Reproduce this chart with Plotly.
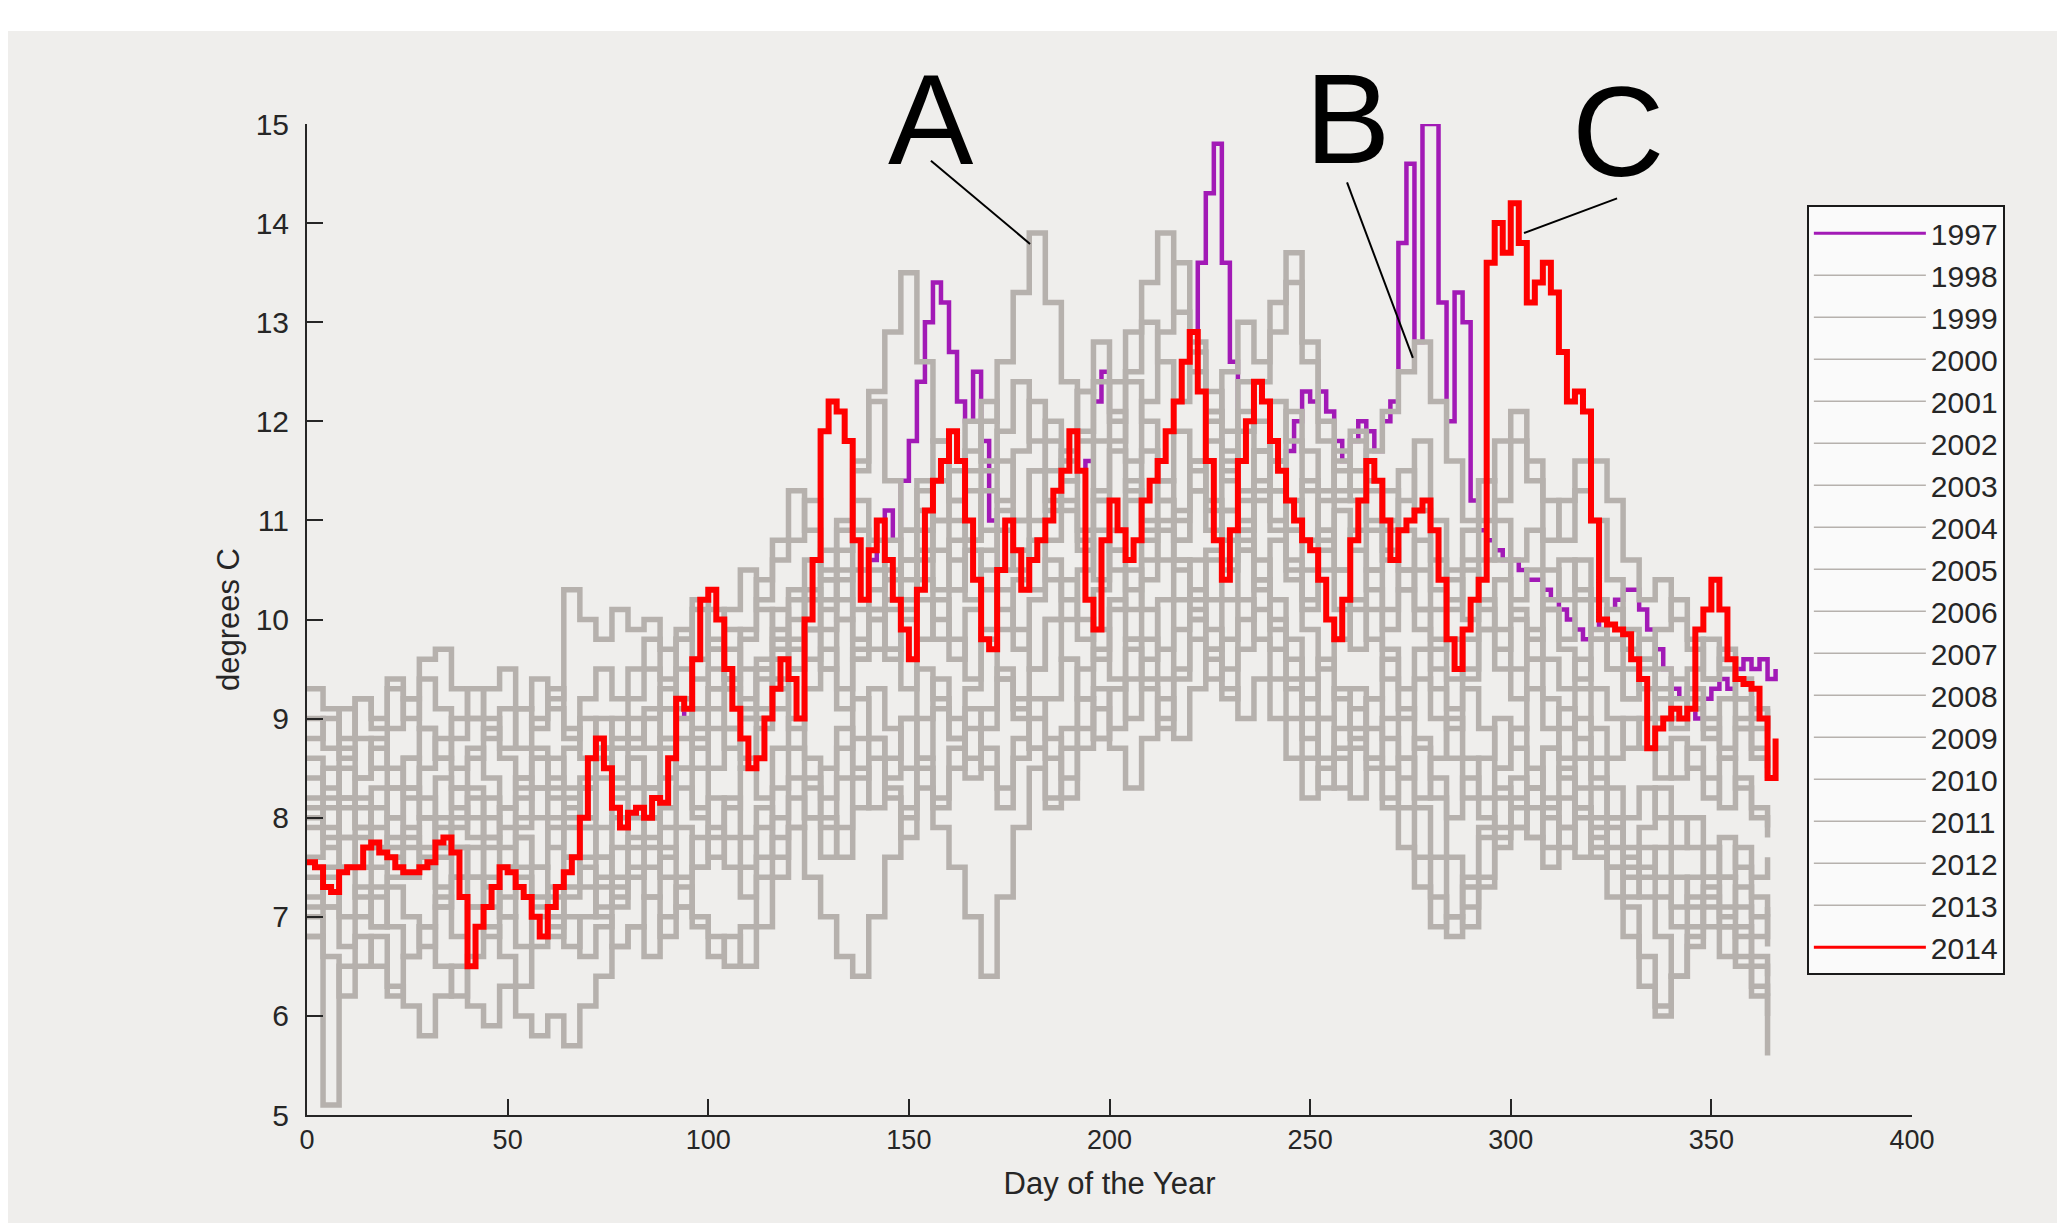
import plotly.graph_objects as go

# ---------------- data ----------------
YEARS = [str(y) for y in range(1997, 2015)]

DAYS_2 = list(range(0, 367, 2))      # sampling of highlighted years
DAYS_G = list(range(0, 365, 4))      # sampling of the grey years

T_2014 = [
    7.55, 7.5, 7.3, 7.25, 7.45, 7.5, 7.5, 7.7, 7.75, 7.65,
    7.6, 7.5, 7.45, 7.45, 7.5, 7.55, 7.75, 7.8, 7.65, 7.2,
    6.5, 6.9, 7.1, 7.3, 7.5, 7.45, 7.3, 7.2, 7.0, 6.8,
    7.1, 7.3, 7.45, 7.6, 8.0, 8.6, 8.8, 8.5, 8.1, 7.9,
    8.05, 8.1, 8.0, 8.2, 8.15, 8.6, 9.2, 9.1, 9.6, 10.2,
    10.3, 10.0, 9.5, 9.1, 8.8, 8.5, 8.6, 9.0, 9.3, 9.6,
    9.4, 9.0, 10.0, 10.6, 11.9, 12.2, 12.1, 11.8, 10.8, 10.2,
    10.7, 11.0, 10.6, 10.2, 9.9, 9.6, 10.3, 11.1, 11.4, 11.6,
    11.9, 11.6, 11.0, 10.4, 9.8, 9.7, 10.5, 11.0, 10.7, 10.3,
    10.6, 10.8, 11.0, 11.3, 11.5, 11.9, 11.5, 10.2, 9.9, 10.8,
    11.2, 10.9, 10.6, 10.8, 11.2, 11.4, 11.6, 11.9, 12.2, 12.6,
    12.9, 12.3, 11.6, 10.8, 10.4, 10.9, 11.6, 12.0, 12.4, 12.2,
    11.8, 11.5, 11.2, 11.0, 10.8, 10.7, 10.4, 10.0, 9.8, 10.2,
    10.8, 11.2, 11.6, 11.4, 11.0, 10.6, 10.9, 11.0, 11.1, 11.2,
    10.9, 10.4, 9.8, 9.5, 9.9, 10.2, 10.4, 13.6, 14.0, 13.7,
    14.2, 13.8, 13.2, 13.4, 13.6, 13.3, 12.7, 12.2, 12.3, 12.1,
    11.0, 10.0, 9.95, 9.9, 9.85, 9.6, 9.4, 8.7, 8.9, 9.0,
    9.1, 9.0, 9.1, 9.9, 10.1, 10.4, 10.1, 9.6, 9.4, 9.35,
    9.3, 9.0, 8.4, 8.8,
]

T_1997 = [
    7.55, 7.5, 7.3, 7.25, 7.45, 7.5, 7.5, 7.7, 7.75, 7.65,
    7.6, 7.5, 7.45, 7.45, 7.5, 7.55, 7.75, 7.8, 7.65, 7.2,
    6.5, 6.9, 7.1, 7.3, 7.5, 7.45, 7.3, 7.2, 7.0, 6.8,
    7.1, 7.3, 7.45, 7.6, 8.0, 8.6, 8.8, 8.5, 8.1, 7.9,
    8.05, 8.1, 8.0, 8.2, 8.15, 8.6, 9.2, 9.0, 9.6, 10.2,
    10.3, 10.0, 9.5, 9.1, 8.8, 8.5, 8.6, 9.0, 9.3, 9.6,
    9.4, 9.0, 10.0, 10.6, 11.9, 12.2, 12.1, 11.8, 10.8, 10.5,
    10.6, 11.0, 11.1, 10.8, 11.4, 11.8, 12.4, 13.0, 13.4, 13.2,
    12.7, 12.2, 12.0, 12.5, 11.8, 11.0, 10.5, 11.0, 10.7, 10.3,
    10.6, 10.8, 11.0, 11.3, 11.5, 11.9, 11.5, 11.6, 12.2, 12.5,
    11.2, 10.9, 10.6, 10.8, 11.2, 11.4, 11.6, 11.9, 12.2, 12.6,
    12.9, 13.6, 14.3, 14.8, 13.6, 12.6, 11.6, 12.0, 12.4, 12.2,
    11.8, 11.5, 11.7, 12.0, 12.3, 12.2, 12.3, 12.1, 11.8, 11.6,
    11.8, 12.0, 11.9, 11.7, 12.0, 12.2, 13.8, 14.6, 12.8, 15.0,
    15.0, 13.2, 12.0, 13.3, 13.0, 11.2, 10.9, 10.8, 10.7, 10.6,
    10.6, 10.5, 10.4, 10.4, 10.3, 10.2, 10.1, 10.0, 9.9, 9.8,
    9.9, 10.0, 10.1, 10.2, 10.3, 10.3, 10.1, 9.9, 9.7, 9.5,
    9.3, 9.2, 9.1, 9.0, 9.2, 9.3, 9.4, 9.3, 9.5, 9.6,
    9.5, 9.6, 9.4, 9.5,
]

T_1998 = [8.8, 9.0, 8.6, 9.2, 8.9, 9.3, 9.0, 9.4, 9.1, 8.8,
          9.0, 9.3, 9.5, 9.1, 8.9, 9.2, 10.3, 10.0, 9.8, 10.1,
          9.9, 10.0, 9.7, 9.9, 9.6, 10.1, 9.4, 9.8, 10.2, 10.6,
          10.8, 11.2, 10.5, 10.9, 11.5, 12.2, 11.4, 10.9, 11.3, 11.8,
          11.2, 10.8, 11.5, 11.9, 12.4, 11.8, 11.2, 11.6, 12.3, 12.8,
          12.1, 11.6, 12.2, 12.9, 13.6, 12.8, 12.1, 11.5, 11.9, 12.4,
          12.9, 13.4, 12.6, 11.8, 11.2, 11.5, 11.0, 10.6, 11.2, 11.8,
          11.0, 10.4, 10.0, 10.6, 11.2, 11.8, 11.4, 10.8, 11.2, 11.6,
          11.0, 10.4, 9.9, 9.6, 9.9, 10.2, 9.8, 9.4, 9.6, 9.2,
          9.0, 8.8]
T_1999 = [7.0, 6.6, 6.2, 6.5, 6.8, 6.3, 6.1, 5.8, 6.2, 6.5,
          6.1, 5.9, 6.3, 6.0, 5.8, 6.0, 5.7, 6.1, 6.4, 6.7,
          6.9, 6.6, 7.0, 7.3, 7.0, 6.8, 6.5, 6.9, 7.4, 7.8,
          8.2, 8.0, 7.6, 7.9, 8.4, 8.8, 8.3, 8.0, 8.6, 9.1,
          8.8, 8.4, 8.9, 9.4, 9.2, 8.7, 8.2, 8.9, 9.5, 9.9,
          9.4, 9.0, 9.6, 10.2, 10.6, 10.1, 9.7, 10.2, 10.8, 10.4,
          9.9, 9.4, 9.0, 8.6, 8.3, 8.7, 9.2, 9.6, 9.1, 8.7,
          8.2, 7.6, 7.1, 7.4, 7.9, 8.4, 8.1, 7.7, 8.2, 8.6,
          8.3, 7.9, 7.5, 7.2, 6.8, 6.4, 6.7, 7.1, 6.9, 6.6,
          6.3, 6.0]
T_2000 = [9.3, 9.1, 8.8, 9.2, 9.0, 9.4, 9.2, 9.6, 9.7, 9.3,
          9.0, 8.8, 9.1, 8.7, 9.0, 9.3, 8.9, 8.6, 9.0, 8.8,
          9.2, 9.5, 9.1, 9.8, 10.2, 9.7, 9.3, 9.9, 10.4, 10.8,
          11.3, 10.9, 10.4, 11.0, 11.6, 12.3, 12.9, 13.5, 12.6, 11.8,
          11.2, 11.7, 12.2, 11.6, 11.0, 11.5, 12.0, 11.4, 10.9, 11.3,
          11.8, 12.4, 12.0, 11.4, 11.0, 11.6, 12.1, 11.7, 11.2, 11.7,
          12.2, 11.8, 11.3, 10.8, 11.3, 11.8, 11.3, 10.7, 10.3, 10.8,
          10.3, 9.8, 9.4, 9.9, 10.4, 10.0, 9.6, 10.1, 9.7, 9.4,
          9.8, 10.1, 9.7, 9.3, 9.0, 9.4, 9.1, 8.8, 9.2, 8.9,
          8.6, 8.5]
T_2001 = [7.2, 7.5, 7.0, 7.3, 6.9, 7.4, 7.8, 7.5, 7.1, 7.4,
          7.7, 7.3, 7.0, 7.4, 7.1, 6.8, 7.2, 7.5, 7.1, 7.4,
          7.8, 7.5, 7.9, 8.3, 8.0, 7.6, 8.1, 8.5, 8.2, 8.7,
          9.0, 8.6, 8.2, 8.7, 9.2, 8.8, 8.4, 9.0, 9.5, 9.2,
          8.8, 9.3, 9.8, 9.4, 9.0, 9.5, 10.0, 9.6, 9.2, 9.7,
          10.2, 9.8, 10.4, 10.9, 10.5, 10.0, 10.6, 11.1, 10.7, 10.3,
          10.8, 10.4, 9.9, 9.5, 9.8, 10.2, 9.8, 9.4, 9.0, 9.4,
          9.0, 8.6, 8.2, 8.6, 9.0, 8.7, 8.3, 8.7, 9.1, 8.8,
          8.4, 8.0, 7.6, 7.9, 8.3, 8.0, 7.7, 7.4, 7.8, 7.5,
          7.2, 7.0]
T_2002 = [8.0, 7.7, 8.2, 7.9, 7.5, 7.8, 8.3, 8.0, 7.6, 7.9,
          8.2, 7.8, 7.5, 7.9, 8.3, 8.0, 7.6, 7.3, 7.0, 6.7,
          6.9, 7.2, 6.8, 7.1, 6.9, 6.6, 6.8, 6.5, 6.9, 7.4,
          7.9, 8.4, 8.0, 7.6, 8.1, 8.6, 8.2, 7.8, 8.3, 7.9,
          7.5, 7.0, 6.4, 7.2, 7.9, 8.5, 8.1, 8.7, 9.2, 8.8,
          9.3, 9.8, 9.4, 9.0, 9.5, 10.0, 9.6, 9.2, 9.7, 10.1,
          9.7, 9.3, 8.8, 8.3, 8.7, 9.1, 8.6, 8.2, 8.6, 8.1,
          7.6, 7.0, 6.9, 7.3, 7.8, 8.2, 7.8, 7.5, 7.9, 8.3,
          7.9, 7.5, 7.1, 6.6, 6.1, 6.4, 6.8, 7.2, 6.9, 6.5,
          6.2, 5.6]
T_2003 = [8.4, 8.1, 8.5, 8.2, 7.9, 8.3, 8.6, 8.2, 7.9, 8.3,
          8.0, 7.7, 8.1, 8.4, 8.0, 7.7, 8.0, 8.3, 7.9, 8.2,
          8.6, 8.3, 8.8, 9.2, 8.8, 9.3, 9.7, 9.2, 9.6, 10.1,
          9.7, 10.2, 10.7, 10.2, 9.8, 10.3, 10.8, 10.4, 10.9, 11.4,
          11.0, 11.5, 12.0, 12.6, 13.3, 13.9, 13.2, 12.4, 11.8, 11.2,
          10.7, 11.2, 11.7, 11.2, 10.8, 11.3, 11.8, 11.4, 10.9, 11.4,
          11.0, 10.6, 10.2, 10.7, 11.1, 10.7, 10.3, 9.9, 10.3, 9.9,
          9.5, 9.1, 9.5, 9.9, 9.5, 9.2, 9.6, 9.2, 8.9, 9.3,
          8.9, 8.6, 9.0, 8.7, 8.4, 8.8, 8.5, 8.2, 8.6, 8.3,
          8.0, 7.8]
T_2004 = [7.6, 7.9, 7.5, 7.8, 8.1, 7.7, 7.4, 7.7, 8.0, 7.7,
          7.4, 7.8, 8.1, 7.8, 7.5, 7.9, 8.2, 7.9, 7.6, 8.0,
          8.3, 8.0, 8.4, 8.8, 8.5, 8.9, 9.3, 9.0, 9.4, 9.8,
          10.3, 9.9, 9.5, 10.0, 10.5, 10.1, 9.7, 10.2, 10.7, 10.3,
          10.8, 11.3, 10.9, 10.5, 11.0, 11.5, 11.1, 11.7, 12.3, 11.8,
          12.4, 12.9, 13.4, 13.9, 13.1, 12.5, 12.0, 12.5, 13.0, 12.6,
          13.2, 13.7, 12.8, 12.0, 11.5, 11.9, 11.4, 11.0, 11.5, 11.1,
          10.6, 10.2, 10.6, 11.0, 10.6, 10.2, 10.5, 10.1, 9.8, 10.2,
          9.8, 9.5, 9.2, 9.6, 9.3, 9.0, 9.3, 9.0, 8.7, 9.0,
          8.7, 8.5]
T_2005 = [6.8, 7.1, 6.7, 7.0, 7.3, 6.9, 6.6, 6.9, 7.2, 6.8,
          7.1, 7.4, 7.0, 6.7, 7.0, 7.3, 7.0, 6.6, 6.9, 7.2,
          7.5, 7.2, 7.6, 7.9, 7.5, 7.8, 8.2, 7.8, 8.1, 7.6,
          7.9, 7.4, 7.0, 6.6, 6.4, 7.0, 7.6, 8.1, 8.5, 8.1,
          8.5, 8.9, 8.5, 8.1, 8.6, 9.0, 8.6, 8.2, 8.7, 9.1,
          8.7, 8.3, 8.8, 9.2, 8.8, 9.3, 9.7, 9.3, 9.0, 9.4,
          9.0, 8.6, 8.2, 8.5, 8.9, 9.3, 8.9, 8.5, 8.1, 7.6,
          7.2, 6.8, 7.3, 7.8, 8.2, 7.9, 8.3, 8.0, 7.7, 8.1,
          7.8, 7.5, 7.2, 7.5, 7.2, 6.9, 7.2, 6.9, 6.6, 6.9,
          6.6, 6.4]
T_2006 = [8.6, 8.3, 8.7, 8.4, 8.8, 8.5, 8.2, 8.5, 8.8, 8.5,
          8.7, 8.4, 8.1, 8.4, 8.7, 8.4, 8.1, 8.4, 8.7, 9.0,
          8.7, 9.0, 9.3, 9.0, 9.4, 9.8, 9.4, 9.0, 9.5, 9.9,
          9.5, 9.9, 10.4, 10.0, 9.6, 10.0, 10.5, 10.1, 10.6, 11.0,
          10.6, 10.2, 10.7, 11.1, 10.7, 10.3, 10.8, 11.2, 10.8, 10.4,
          10.9, 11.4, 11.0, 10.6, 11.1, 11.6, 11.2, 10.8, 11.3, 11.7,
          11.3, 10.9, 10.5, 10.9, 10.5, 10.1, 10.5, 10.9, 10.5, 10.1,
          9.8, 9.4, 9.8, 10.2, 9.9, 9.5, 9.9, 9.6, 9.3, 9.6,
          9.3, 9.0, 8.7, 9.0, 8.7, 8.4, 8.7, 8.4, 8.1, 8.4,
          8.1, 7.9]
T_2007 = [7.9, 8.2, 7.8, 8.1, 7.7, 8.0, 8.3, 8.0, 7.7, 8.0,
          8.3, 8.0, 7.7, 8.0, 8.3, 8.6, 8.3, 8.0, 8.4, 8.7,
          9.0, 8.7, 9.1, 9.5, 9.1, 9.5, 9.9, 9.5, 9.1, 9.6,
          10.0, 9.6, 10.1, 10.5, 10.1, 9.7, 10.2, 10.6, 10.2, 9.8,
          10.3, 10.7, 10.3, 9.9, 10.4, 10.8, 10.4, 10.0, 10.5, 10.9,
          10.5, 10.1, 10.6, 11.0, 10.6, 10.2, 10.7, 11.1, 10.7, 11.2,
          11.6, 11.2, 10.8, 11.2, 11.6, 11.2, 11.7, 12.1, 12.5, 12.8,
          12.2, 11.6, 11.0, 11.4, 11.8, 12.1, 11.6, 11.2, 10.8, 11.3,
          11.6, 11.2, 10.6, 10.2, 10.4, 10.0, 9.7, 9.4, 9.7, 9.4,
          9.1, 8.9]
T_2008 = [7.4, 7.1, 7.5, 7.2, 6.9, 7.3, 7.0, 6.7, 7.1, 7.4,
          7.1, 6.8, 7.2, 7.5, 7.2, 6.9, 7.3, 7.6, 7.3, 7.7,
          8.0, 7.7, 8.1, 8.5, 8.1, 8.5, 8.9, 8.5, 8.9, 9.3,
          8.9, 9.3, 9.7, 9.3, 9.7, 10.1, 9.7, 9.3, 9.8, 10.2,
          9.8, 9.4, 9.9, 10.3, 9.9, 9.5, 10.0, 10.4, 10.0, 9.6,
          10.1, 10.5, 10.1, 9.7, 10.2, 10.6, 10.2, 10.6, 11.0, 10.6,
          10.2, 9.8, 9.4, 9.0, 9.3, 8.9, 8.5, 8.1, 7.7, 7.3,
          6.9, 7.0, 7.4, 7.9, 8.3, 7.9, 8.3, 8.7, 8.4, 8.0,
          7.6, 7.2, 6.8, 6.3, 6.0, 6.4, 6.9, 7.3, 7.0, 7.3,
          7.0, 6.7]
T_2009 = [8.2, 8.5, 8.1, 8.4, 8.7, 8.3, 8.6, 8.9, 8.6, 8.3,
          8.6, 8.9, 8.6, 8.3, 8.6, 8.3, 8.7, 9.0, 8.7, 8.4,
          8.8, 9.1, 8.8, 8.5, 8.9, 9.3, 8.9, 8.6, 9.0, 9.4,
          9.8, 10.3, 9.9, 10.4, 10.9, 10.5, 10.1, 10.6, 11.1, 10.7,
          10.3, 10.8, 11.3, 10.9, 10.5, 11.0, 11.5, 11.1, 10.7, 11.2,
          11.7, 11.3, 10.9, 11.4, 11.9, 11.5, 11.1, 11.6, 12.1, 11.7,
          11.3, 10.9, 11.4, 10.9, 10.5, 10.9, 10.5, 10.1, 10.5, 10.1,
          9.7, 10.1, 10.5, 10.1, 9.7, 10.1, 9.8, 10.2, 10.6, 10.3,
          9.9, 9.5, 9.2, 9.5, 9.2, 8.9, 9.2, 8.9, 8.6, 8.9,
          8.6, 8.4]
T_2010 = [6.8, 5.1, 6.5, 6.8, 6.5, 6.2, 6.6, 6.9, 6.5, 6.2,
          6.6, 6.9, 6.6, 6.3, 6.7, 7.0, 6.7, 7.0, 7.4, 7.1,
          7.4, 7.8, 7.4, 7.1, 7.5, 7.9, 7.5, 7.2, 7.6, 8.0,
          8.4, 8.0, 8.5, 8.9, 8.5, 8.1, 8.6, 9.0, 8.6, 8.2,
          8.7, 9.1, 8.7, 8.3, 8.8, 9.2, 8.8, 8.4, 8.9, 9.3,
          8.9, 9.4, 9.8, 9.4, 9.9, 10.3, 9.9, 9.5, 10.0, 10.4,
          10.0, 9.6, 9.2, 9.6, 9.2, 8.8, 9.2, 8.8, 8.4, 8.8,
          8.4, 8.0, 8.4, 8.0, 7.7, 8.1, 7.8, 8.2, 7.9, 7.6,
          8.0, 7.7, 7.4, 7.7, 7.4, 7.1, 7.4, 7.7, 7.4, 7.1,
          6.8, 7.1]
T_2011 = [9.0, 8.7, 9.1, 8.8, 8.5, 8.9, 9.2, 8.9, 8.6, 9.0,
          9.3, 9.0, 8.7, 9.1, 9.4, 9.1, 8.8, 9.2, 9.5, 9.2,
          9.5, 9.8, 9.4, 9.8, 10.1, 9.7, 10.1, 10.5, 10.1, 9.7,
          10.2, 10.6, 10.2, 10.7, 11.2, 10.8, 10.4, 10.9, 11.4, 11.0,
          11.5, 12.0, 11.6, 11.2, 11.7, 12.2, 11.8, 11.4, 11.9, 12.4,
          12.0, 12.5, 13.0, 12.6, 12.2, 12.7, 12.3, 11.9, 12.4, 12.0,
          11.6, 12.1, 11.7, 11.3, 11.7, 11.3, 10.9, 11.3, 10.9, 10.5,
          10.1, 10.5, 10.9, 11.4, 11.0, 10.6, 10.9, 10.5, 10.2, 10.6,
          10.2, 9.8, 9.5, 9.8, 9.5, 9.2, 9.5, 9.8, 9.5, 9.2,
          8.9, 9.1]
T_2012 = [7.1, 7.4, 7.8, 7.5, 7.2, 7.6, 7.9, 7.6, 7.3, 7.7,
          7.4, 7.1, 7.5, 7.8, 7.5, 7.2, 7.6, 7.9, 7.6, 7.3,
          7.7, 8.0, 7.7, 7.4, 7.8, 8.2, 7.8, 7.5, 7.9, 8.3,
          8.7, 8.3, 7.9, 8.4, 8.8, 9.3, 8.9, 8.5, 9.0, 9.4,
          9.0, 8.6, 9.1, 9.5, 9.1, 8.7, 9.2, 9.6, 9.2, 8.8,
          9.3, 9.7, 9.3, 8.9, 9.4, 9.8, 9.4, 9.8, 10.2, 9.8,
          9.4, 9.0, 8.6, 9.0, 8.6, 8.2, 8.6, 9.0, 8.6, 8.2,
          8.6, 9.0, 8.6, 8.2, 8.5, 8.9, 8.5, 8.1, 8.5, 8.1,
          7.7, 8.0, 7.7, 7.4, 7.7, 7.4, 7.1, 7.4, 7.1, 6.8,
          6.5, 6.2]
T_2013 = [8.1, 7.8, 8.2, 7.9, 8.3, 8.0, 7.7, 8.0, 8.4, 8.1,
          7.8, 8.2, 7.9, 8.2, 8.6, 8.2, 7.9, 8.3, 8.6, 8.3,
          8.6, 8.3, 8.7, 9.1, 8.7, 9.1, 8.7, 9.1, 9.5, 9.1,
          9.5, 9.9, 9.5, 9.1, 9.6, 10.0, 9.6, 10.0, 10.4, 10.0,
          9.6, 10.1, 10.5, 10.1, 9.7, 10.2, 10.6, 10.2, 9.8, 10.3,
          10.7, 10.3, 10.8, 11.2, 10.8, 11.3, 10.9, 10.5, 10.9, 11.3,
          10.9, 10.5, 10.1, 10.5, 10.1, 9.7, 10.1, 9.7, 9.3, 9.7,
          9.3, 8.9, 9.3, 8.9, 8.5, 8.9, 9.3, 8.9, 8.6, 9.0,
          8.6, 8.3, 8.0, 8.3, 8.0, 7.7, 8.0, 7.7, 7.4, 7.7,
          7.4, 7.6]

GREY_SERIES = [T_1998, T_1999, T_2000, T_2001, T_2002, T_2003, T_2004, T_2005,
               T_2006, T_2007, T_2008, T_2009, T_2010, T_2011, T_2012, T_2013]

X_TICKS = [0, 50, 100, 150, 200, 250, 300, 350, 400]
Y_TICKS = [5, 6, 7, 8, 9, 10, 11, 12, 13, 14, 15]

# callouts: label, text position (day, degC), line start, line end
CALLOUTS = [
    ("A", (155.5, 15.05), (155.5, 14.63), (180.2, 13.79)),
    ("B", (259.4, 15.06), (259.2, 14.41), (275.6, 12.64)),
    ("C", (326.8, 14.92), (326.5, 14.25), (303.3, 13.90)),
]

# ---------------- styling ----------------
BG = "#efeeec"
GREY = "#b6b1ad"
RED = "#ff0000"
PURPLE = "#a21ab6"
FONT = "Liberation Sans, Arial, sans-serif"
TXT = "#262626"
Y0, Y1 = 5, 15

COLORS = [PURPLE] + [GREY] * 16 + [RED]
PLOT_W = [4.5] + [5.5] * 16 + [6]
LEG_W = [3] + [1.6] * 16 + [3]
SERIES = [(DAYS_2, T_1997)] + [(DAYS_G[:len(v)], v) for v in GREY_SERIES] + [(DAYS_2, T_2014)]

fig = go.Figure()

# data traces (drawn thick, like the dense hourly record)
for name, (xs, ys), col, w in zip(YEARS, SERIES, COLORS, PLOT_W):
    fig.add_trace(go.Scatter(x=xs, y=ys, name=name, mode="lines",
                             line=dict(color=col, width=w, shape="hv"),
                             legendgroup=name, showlegend=False))
# legend entries (thin line samples as in the original legend)
for name, col, w in zip(YEARS, COLORS, LEG_W):
    fig.add_trace(go.Scatter(x=[None], y=[None], name=name, mode="lines",
                             line=dict(color=col, width=w),
                             legendgroup=name, showlegend=True, hoverinfo="skip"))

for label, tpos, p0, p1 in CALLOUTS:
    fig.add_annotation(x=tpos[0], y=(tpos[1] - Y0) / (Y1 - Y0), text=label,
                       showarrow=False, xref="x", yref="paper",
                       xanchor="center", yanchor="middle",
                       font=dict(family=FONT, size=128, color="#000000"))
    fig.add_shape(type="line", xref="x", yref="y", x0=p0[0], y0=p0[1],
                  x1=p1[0], y1=p1[1], line=dict(color="#000000", width=2))

# white strip at the top of the original screenshot
fig.add_shape(type="rect", xref="paper", yref="paper", x0=-0.25, x1=1.25,
              y0=1.0938, y1=1.25, fillcolor="white", line=dict(width=0), layer="above")

axis_common = dict(showgrid=False, zeroline=False, showline=True, linecolor=TXT,
                   linewidth=2, ticks="inside", ticklen=16, tickwidth=1.6,
                   tickcolor=TXT, mirror=False)

fig.update_layout(
    width=2057, height=1215,
    margin=dict(l=299, r=153, t=116, b=108),
    paper_bgcolor=BG, plot_bgcolor=BG,
    font=dict(family=FONT, color=TXT),
    xaxis=dict(range=[0, 400], tickvals=X_TICKS,
               tickfont=dict(family=FONT, size=27, color=TXT),
               title=dict(text="Day of the Year", font=dict(family=FONT, size=31, color=TXT), standoff=18),
               **axis_common),
    yaxis=dict(range=[Y0, Y1], tickvals=Y_TICKS, ticklabelstandoff=10,
               tickfont=dict(family=FONT, size=30, color=TXT),
               title=dict(text="degrees C", font=dict(family=FONT, size=31, color=TXT), standoff=7),
               **axis_common),
    legend=dict(x=0.9345, y=0.918, xanchor="left", yanchor="top",
                bgcolor="#fafafa", bordercolor="#1a1a1a", borderwidth=2,
                font=dict(family=FONT, size=30, color=TXT),
                itemwidth=112, tracegroupgap=6, traceorder="normal",
                itemclick=False, itemdoubleclick=False),
    showlegend=True,
)

fig.write_html("out.html")
